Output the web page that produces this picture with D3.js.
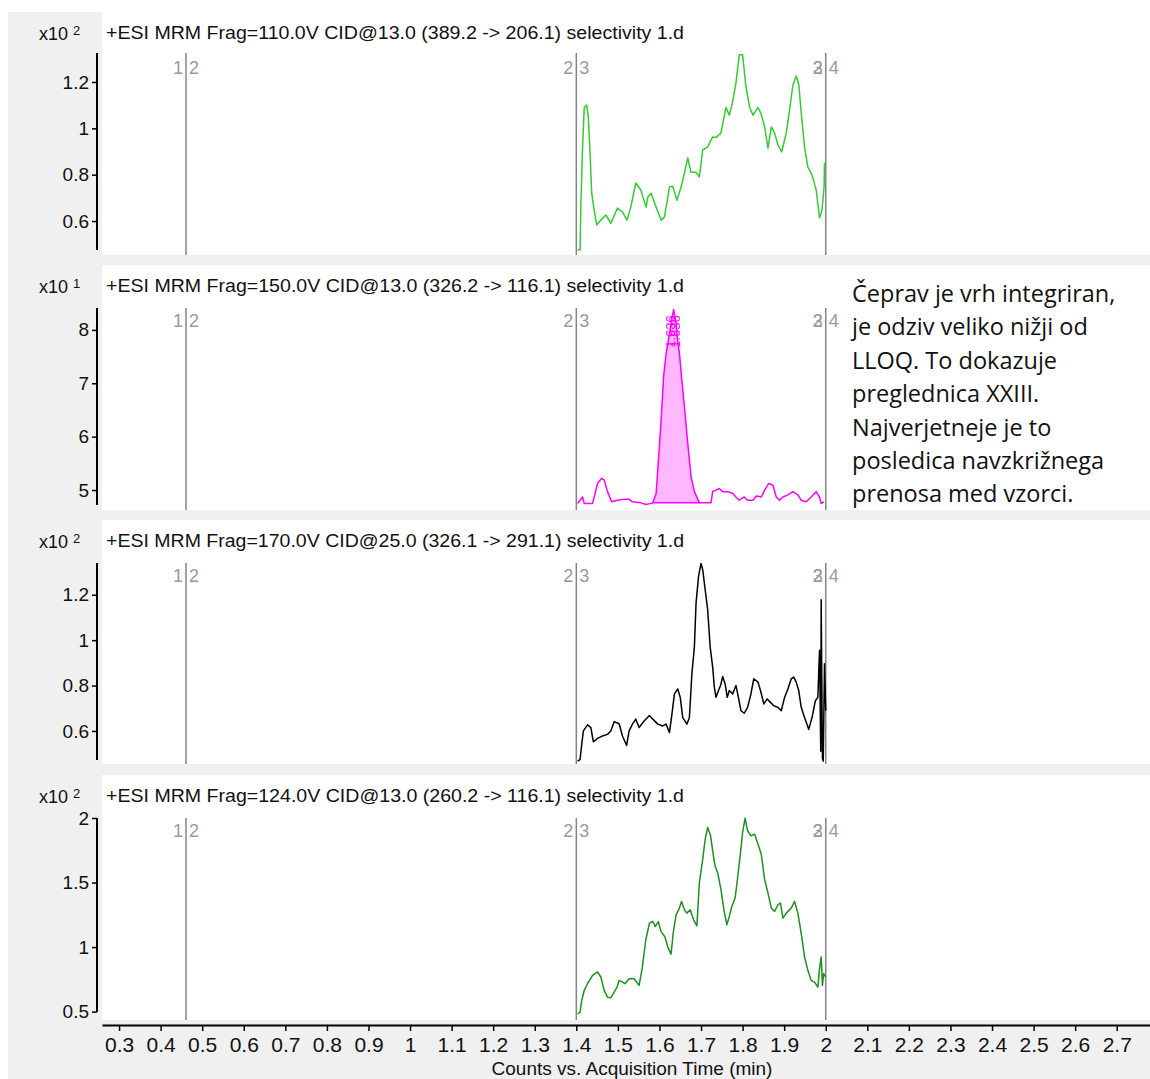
<!DOCTYPE html>
<html>
<head>
<meta charset="utf-8">
<script src="https://cdn.jsdelivr.net/npm/d3@7"></script>
<style>
  body { margin: 0; background: #fff; }
  svg { display: block; font-family: "Liberation Sans", Arial, sans-serif; }
</style>
</head>
<body>
<svg width="1150" height="1079"></svg>
<script>
//////////////////////////////////////////////////////////////////////
// DATA
//   values, counts shown in x10^n units
var xTicks = [0.3, 0.4, 0.5, 0.6, 0.7, 0.8, 0.9, 1, 1.1, 1.2, 1.3, 1.4, 1.5,
              1.6, 1.7, 1.8, 1.9, 2, 2.1, 2.2, 2.3, 2.4, 2.5, 2.6, 2.7];

// time segment boundaries and their labels
var segmentTimes = [0.461, 1.4, 2.0];
var segmentLeft = [["1"], ["2"], ["2", "3"]];
var segmentRight = ["2", "3", "4"];

var titles = [
  "+ESI MRM Frag=110.0V CID@13.0 (389.2 -> 206.1) selectivity 1.d",
  "+ESI MRM Frag=150.0V CID@13.0 (326.2 -> 116.1) selectivity 1.d",
  "+ESI MRM Frag=170.0V CID@25.0 (326.1 -> 291.1) selectivity 1.d",
  "+ESI MRM Frag=124.0V CID@13.0 (260.2 -> 116.1) selectivity 1.d"
];
var exponents = ["2", "1", "2", "2"];

var yTicks1 = [0.6, 0.8, 1, 1.2];
var yTicks2 = [5, 6, 7, 8];
var yTicks3 = [0.6, 0.8, 1, 1.2];
var yTicks4 = [0.5, 1, 1.5, 2];

// [time (min), counts]
var trace1 = [[1.403,0.475],[1.409,0.475],[1.411,0.678],[1.415,0.915],[1.419,1.09],[1.425,1.10],
  [1.429,1.045],[1.433,0.894],[1.437,0.72],[1.443,0.647],[1.449,0.583],[1.459,0.604],[1.471,0.626],
  [1.483,0.59],[1.499,0.656],[1.511,0.639],[1.522,0.604],[1.531,0.66],[1.543,0.764],[1.555,0.734],
  [1.568,0.66],[1.572,0.704],[1.580,0.72],[1.592,0.66],[1.604,0.604],[1.612,0.617],[1.624,0.747],
  [1.632,0.75],[1.642,0.69],[1.652,0.747],[1.660,0.807],[1.668,0.872],[1.676,0.81],[1.688,0.81],
  [1.696,0.79],[1.704,0.907],[1.716,0.92],[1.728,0.963],[1.736,0.96],[1.748,0.98],[1.760,1.09],
  [1.768,1.057],[1.776,1.114],[1.784,1.196],[1.792,1.317],[1.800,1.317],[1.808,1.18],[1.817,1.09],
  [1.825,1.057],[1.837,1.09],[1.845,1.06],[1.853,1.006],[1.861,0.915],[1.869,1.006],[1.877,0.98],
  [1.885,0.928],[1.894,0.898],[1.905,0.98],[1.913,1.08],[1.921,1.187],[1.929,1.226],[1.935,1.19],
  [1.941,1.067],[1.949,0.92],[1.957,0.833],[1.967,0.799],[1.977,0.734],[1.985,0.613],[1.991,0.647],
  [1.996,0.747],[1.997,0.85]];

var trace2 = [[1.403,4.75],[1.409,4.81],[1.415,4.87],[1.419,4.75],[1.439,4.75],[1.443,4.87],
  [1.451,5.125],[1.461,5.22],[1.467,5.19],[1.475,4.97],[1.485,4.78],[1.499,4.81],[1.515,4.83],
  [1.527,4.83],[1.535,4.78],[1.555,4.76],[1.568,4.73],[1.584,4.76],[1.592,4.94],[1.597,5.50],
  [1.604,6.31],[1.610,7.13],[1.616,7.56],[1.621,7.78],[1.628,8.13],[1.634,8.38],[1.640,8.13],
  [1.644,7.78],[1.648,7.56],[1.653,7.13],[1.660,6.56],[1.668,5.88],[1.676,5.25],[1.684,4.97],
  [1.696,4.76],[1.724,4.76],[1.728,4.97],[1.736,5.0],[1.744,5.03],[1.752,4.97],[1.764,4.97],
  [1.776,4.94],[1.784,4.87],[1.792,4.81],[1.804,4.87],[1.812,4.81],[1.825,4.81],[1.833,4.89],
  [1.845,4.87],[1.853,5.0],[1.863,5.125],[1.873,5.09],[1.881,4.87],[1.889,4.81],[1.897,4.87],
  [1.909,4.91],[1.921,4.97],[1.933,4.91],[1.941,4.81],[1.953,4.78],[1.965,4.87],[1.977,4.97],
  [1.985,4.87],[1.989,4.75],[1.996,4.78]];

var trace3 = [[1.403,0.467],[1.409,0.474],[1.413,0.541],[1.417,0.6],[1.427,0.627],[1.435,0.615],
  [1.441,0.552],[1.451,0.567],[1.463,0.578],[1.475,0.585],[1.483,0.6],[1.491,0.641],[1.503,0.632],
  [1.511,0.578],[1.521,0.536],[1.527,0.6],[1.535,0.63],[1.543,0.652],[1.551,0.615],[1.563,0.644],
  [1.576,0.668],[1.584,0.652],[1.596,0.63],[1.608,0.622],[1.616,0.63],[1.624,0.593],[1.630,0.674],
  [1.636,0.763],[1.644,0.785],[1.650,0.748],[1.656,0.659],[1.666,0.63],[1.672,0.659],[1.678,0.852],
  [1.684,0.97],[1.688,1.163],[1.694,1.281],[1.700,1.338],[1.704,1.311],[1.710,1.222],[1.716,1.133],
  [1.722,0.97],[1.728,0.881],[1.732,0.793],[1.736,0.748],[1.742,0.778],[1.747,0.8],[1.752,0.84],
  [1.758,0.807],[1.763,0.748],[1.768,0.778],[1.776,0.763],[1.784,0.8],[1.790,0.748],[1.796,0.689],
  [1.804,0.678],[1.812,0.704],[1.820,0.763],[1.827,0.83],[1.837,0.815],[1.843,0.778],[1.851,0.719],
  [1.859,0.741],[1.867,0.726],[1.875,0.711],[1.885,0.704],[1.893,0.689],[1.901,0.748],[1.909,0.785],
  [1.917,0.83],[1.923,0.837],[1.929,0.815],[1.935,0.778],[1.941,0.704],[1.949,0.659],[1.959,0.607],
  [1.967,0.659],[1.975,0.733],[1.981,0.748],[1.985,0.956],[1.988,0.511],[1.989,1.178],[1.992,0.481],
  [1.994,0.467],[1.997,0.896],[2.000,0.689]];

var trace4 = [[1.403,0.482],[1.409,0.495],[1.413,0.586],[1.419,0.664],[1.427,0.716],[1.439,0.781],
  [1.451,0.807],[1.459,0.768],[1.467,0.664],[1.475,0.612],[1.483,0.607],[1.491,0.651],[1.498,0.690],
  [1.503,0.742],[1.511,0.729],[1.517,0.716],[1.527,0.755],[1.539,0.755],[1.547,0.721],[1.551,0.703],
  [1.559,0.846],[1.567,1.055],[1.576,1.185],[1.584,1.198],[1.590,1.159],[1.597,1.198],[1.604,1.120],
  [1.613,1.080],[1.620,1.002],[1.628,0.945],[1.633,1.107],[1.640,1.25],[1.648,1.302],[1.653,1.354],
  [1.660,1.289],[1.666,1.263],[1.674,1.289],[1.682,1.211],[1.690,1.164],[1.696,1.498],[1.704,1.68],
  [1.710,1.836],[1.716,1.927],[1.723,1.862],[1.731,1.68],[1.734,1.627],[1.740,1.576],[1.748,1.445],
  [1.755,1.289],[1.762,1.172],[1.768,1.237],[1.774,1.315],[1.782,1.380],[1.788,1.537],[1.795,1.732],
  [1.800,1.888],[1.806,1.998],[1.812,1.901],[1.820,1.862],[1.829,1.875],[1.837,1.797],[1.845,1.719],
  [1.853,1.523],[1.861,1.420],[1.869,1.302],[1.877,1.276],[1.885,1.328],[1.891,1.341],[1.897,1.224],
  [1.905,1.263],[1.917,1.302],[1.925,1.354],[1.933,1.263],[1.941,1.107],[1.949,0.924],[1.957,0.820],
  [1.965,0.742],[1.973,0.729],[1.981,0.690],[1.985,0.834],[1.989,0.924],[1.992,0.703],[1.995,0.795],
  [2.000,0.768]];

// integrated peak in the second trace
var peakStart = 1.583;
var peakEnd = 1.697;
var peakBase = 4.76;
var peakLabel = "1.636";
var peakTime = 1.634;

var note = [
  "Čeprav je vrh integriran,",
  "je odziv veliko nižji od",
  "LLOQ. To dokazuje",
  "preglednica XXIII.",
  "Najverjetneje je to",
  "posledica navzkrižnega",
  "prenosa med vzorci."
];

//////////////////////////////////////////////////////////////////////
// LAYOUT

var svg = d3.select("svg");

// each panel: white box, y axis span and range shown
var panels = [
  {top: 12,  bottom: 255,  axisTop: 53,  axisBottom: 250,  domain: [0.475, 1.325], ticks: yTicks1, data: trace1, color: "#33cc33"},
  {top: 265, bottom: 510,  axisTop: 308, axisBottom: 505,  domain: [4.72, 8.41],   ticks: yTicks2, data: trace2, color: "#ff00ff"},
  {top: 520, bottom: 764,  axisTop: 563, axisBottom: 760,  domain: [0.472, 1.34],  ticks: yTicks3, data: trace3, color: "#000000"},
  {top: 775, bottom: 1020, axisTop: 818, axisBottom: 1012, domain: [0.497, 2.0],   ticks: yTicks4, data: trace4, color: "#1f8f1f"}
];

var x = d3.scaleLinear()
          .domain([0.259, 2.78])
          .range([102, 1150]);

// grey window background
svg.append("rect")
   .attr("x", 8)
   .attr("y", 12)
   .attr("width", 1142)
   .attr("height", 1067)
   .attr("fill", "#f0f0f0");

panels.forEach(drawPanel);
drawNote();
drawXAxis();

// draw one chromatogram panel
function drawPanel(p, i) {

  var g = svg.append("g").attr("class", "panel");

  g.append("rect")
   .attr("x", 102)
   .attr("y", p.top)
   .attr("width", 1048)
   .attr("height", p.bottom - p.top)
   .attr("fill", "#fff");

  var y = d3.scaleLinear()
            .domain(p.domain)
            .range([p.axisBottom, p.axisTop]);

  // y axis on the grey margin
  var axis = g.append("g")
              .attr("transform", "translate(97,0)")
              .call(d3.axisLeft(y)
                      .tickValues(p.ticks)
                      .tickSize(5)
                      .tickSizeOuter(0)
                      .tickPadding(3)
                      .tickFormat(d3.format("~g")));

  axis.select(".domain")
      .attr("d", "M0," + p.axisTop + "V" + p.axisBottom)
      .attr("stroke", "#000")
      .attr("stroke-width", 2);
  axis.selectAll(".tick line").attr("stroke", "#000").attr("stroke-width", 1.5);
  axis.selectAll(".tick text")
      .attr("fill", "#111")
      .style("font-size", "19px")
      .style("font-family", "'Liberation Sans', Arial, sans-serif");

  // exponent label
  var exp = g.append("text")
             .attr("x", 39)
             .attr("y", p.top + 28)
             .style("font-size", "18px")
             .attr("fill", "#111")
             .text("x10");
  exp.append("tspan")
     .attr("dx", 5)
     .attr("dy", -5)
     .style("font-size", "13px")
     .text(exponents[i]);

  // trace title
  g.append("text")
   .attr("x", 106)
   .attr("y", p.top + 27)
   .style("font-size", "17.5px")
   .attr("textLength", 578)
   .attr("lengthAdjust", "spacingAndGlyphs")
   .attr("fill", "#111")
   .text(titles[i]);

  // time segment boundaries
  segmentTimes.forEach(function(t, j) {
    g.append("line")
     .attr("x1", x(t)).attr("x2", x(t))
     .attr("y1", p.axisTop).attr("y2", p.bottom)
     .attr("stroke", "#858585")
     .attr("stroke-width", 1.5);

    segmentLeft[j].forEach(function(s) {
      g.append("text")
       .attr("x", x(t) - 3)
       .attr("y", p.top + 62)
       .attr("text-anchor", "end")
       .style("font-size", "18px")
       .attr("fill", "#9a9a9a")
       .text(s);
    });

    g.append("text")
     .attr("x", x(t) + 3)
     .attr("y", p.top + 62)
     .style("font-size", "18px")
     .attr("fill", "#9a9a9a")
     .text(segmentRight[j]);
  });

  // integrated area first so the trace sits on top
  if (i === 1) {
    var area = d3.area()
                 .x(function(d) { return x(d[0]); })
                 .y0(y(peakBase))
                 .y1(function(d) { return y(d[1]); });

    var inPeak = p.data.filter(function(d) { return d[0] >= peakStart && d[0] <= peakEnd; });

    g.append("path")
     .datum(inPeak)
     .attr("d", area)
     .attr("fill", "#ffb8ff");

    g.append("line")
     .attr("x1", x(peakStart)).attr("x2", x(peakEnd))
     .attr("y1", y(peakBase)).attr("y2", y(peakBase))
     .attr("stroke", p.color)
     .attr("stroke-width", 1.5);
  }

  var line = d3.line()
               .x(function(d) { return x(d[0]); })
               .y(function(d) { return y(d[1]); });

  g.append("path")
   .datum(p.data)
   .attr("d", line)
   .attr("fill", "none")
   .attr("stroke", p.color)
   .attr("stroke-width", 1.5)
   .attr("stroke-linejoin", "round");

  // retention time label of the integrated peak
  if (i === 1) {
    [-3, 2].forEach(function(dx) {
      g.append("text")
       .attr("transform", "translate(" + (x(peakTime) + dx + 4) + "," + (y(peakBase) - 155) + ") rotate(-90)")
       .style("font-size", "13px")
       .attr("fill", p.color)
       .text(peakLabel);
    });
  }

} // end drawPanel

// comment written next to the second panel
function drawNote() {
  svg.append("g")
     .selectAll("text")
     .data(note)
     .enter()
     .append("text")
     .attr("x", 852)
     .attr("y", function(d, k) { return 302 + k * 33.4; })
     .style("font-family", "'Open Sans', Lato, sans-serif")
     .style("font-size", "23.5px")
     .attr("fill", "#111")
     .text(function(d) { return d; });
} // end drawNote

// shared time axis at the bottom
function drawXAxis() {
  var axis = svg.append("g")
                .attr("transform", "translate(0,1025)")
                .call(d3.axisBottom(x)
                        .tickValues(xTicks)
                        .tickSize(6)
                        .tickSizeOuter(0)
                        .tickPadding(6)
                        .tickFormat(d3.format("~g")));

  axis.select(".domain").attr("stroke", "#000").attr("stroke-width", 2);
  axis.selectAll(".tick line").attr("stroke", "#000").attr("stroke-width", 1.5);
  axis.selectAll(".tick text")
      .attr("fill", "#111")
      .style("font-size", "21px");

  svg.append("text")
     .attr("x", 632)
     .attr("y", 1075)
     .attr("text-anchor", "middle")
     .style("font-size", "19px")
     .attr("fill", "#111")
     .text("Counts vs. Acquisition Time (min)");
} // end drawXAxis
</script>
</body>
</html>
